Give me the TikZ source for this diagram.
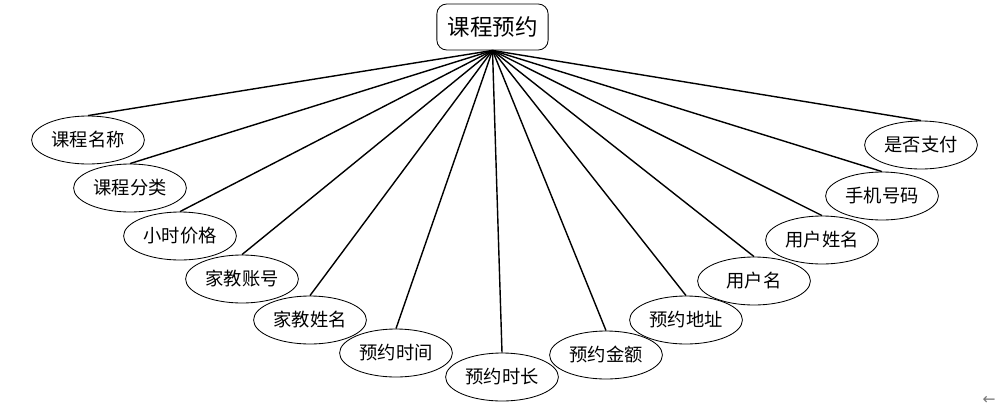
\documentclass[tikz,border=0pt]{standalone}
\usepackage{fontspec}
\setmainfont{Noto Sans CJK SC}
\newfontfamily\symfont{DejaVu Sans}
\usepackage{xcolor}
\definecolor{grisMarca}{RGB}{120, 120, 120}
\usepackage{tikz}
\usetikzlibrary{shapes.geometric,calc}
\tikzstyle{edge}  =[line width=1pt, black]
\tikzstyle{attr}  =[ellipse, draw, line width=0.6pt,
                    minimum width=2.82cm, minimum height=1.2cm,
                    inner sep=0pt, font=\fontsize{13}{15}\selectfont]
\tikzstyle{entity}=[rectangle, rounded corners=7pt, draw, line width=0.6pt,
                    minimum width=2.78cm, minimum height=1.15cm,
                    inner sep=0pt, font=\fontsize{16}{18}\selectfont]

\begin{document}
\begin{tikzpicture}[x=0.025cm, y=-0.025cm]
    \useasboundingbox (0,0) rectangle (998,408);

        \begin{scope}[]
            \draw (492.5,27) node (0) [entity] {课程预约};

            \draw (88,140) node (1) [attr] {课程名称};
            \draw (130,188) node (2) [attr] {课程分类};
            \draw (180,236) node (3) [attr] {小时价格};
            \draw (242,279) node (4) [attr] {家教账号};
            \draw (310,320) node (5) [attr] {家教姓名};
            \draw (396,353) node (6) [attr] {预约时间};
            \draw (502,377) node (7) [attr] {预约时长};
            \draw (606,355) node (8) [attr] {预约金额};
            \draw (686,320) node (9) [attr] {预约地址};
            \draw (754,281) node (10) [attr] {用户名};
            \draw (822,240) node (11) [attr] {用户姓名};
            \draw (882,196) node (12) [attr] {手机号码};
            \draw (921,145) node (13) [attr] {是否支付};

            \foreach \j in {1,...,13}
                \draw [edge] (0.south) to (\j.north);
        \end{scope}

        \node (mark) at (989,400) {\symfont\fontsize{11}{12}\selectfont\color{grisMarca}←};

\end{tikzpicture}
\end{document}
